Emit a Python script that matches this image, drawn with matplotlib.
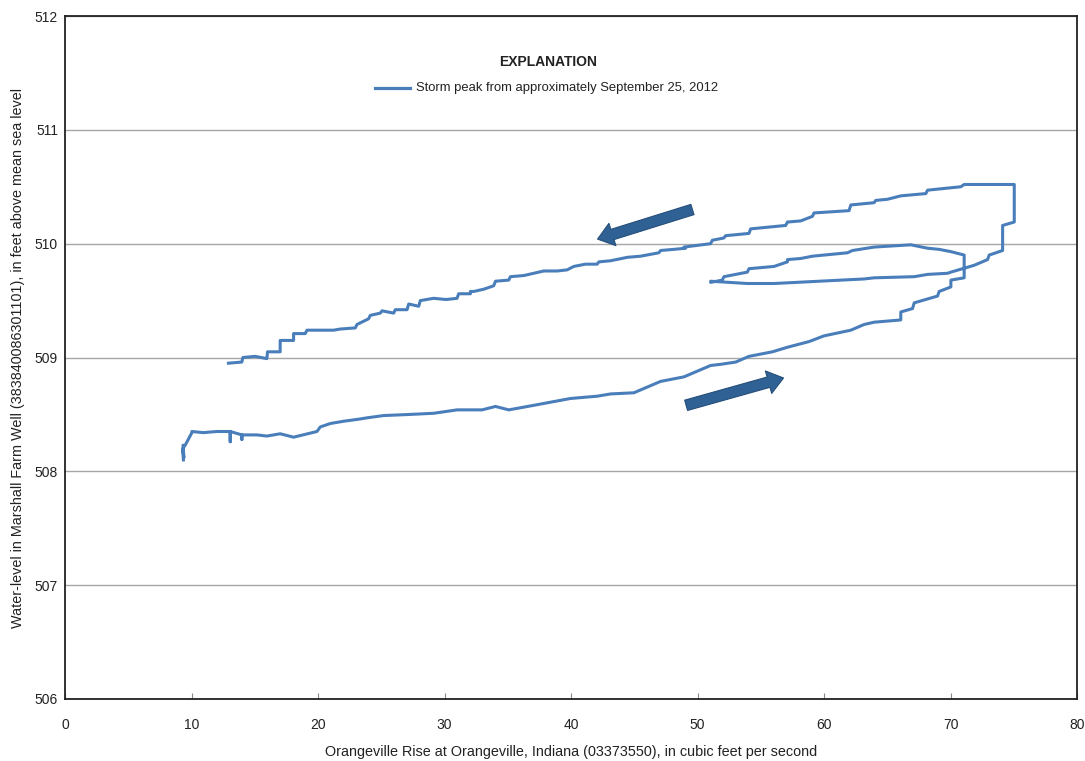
import matplotlib
matplotlib.use("Agg")
import matplotlib.pyplot as plt

# Discharge (cfs) and water level (ft) along the storm hysteresis loop
flow = [
    9.36, 9.30, 9.40, 9.33, 9.45, 9.60, 10.03, 10.03, 10.92, 12.00, 13.06, 13.06, 13.06,
    13.98, 13.98, 13.98, 15.17, 15.96, 17.01, 18.07, 19.92, 20.18, 20.97, 22.02, 23.34,
    23.87, 25.19, 27.30, 29.14, 31.00, 32.97, 34.03, 35.08, 37.06, 39.96, 42.07, 43.13,
    44.97, 47.08, 48.93, 49.99, 51.04, 51.83, 53.02, 54.07, 55.92, 57.11, 58.82, 60.00,
    62.12, 63.17, 63.96, 66.07, 66.07, 67.00, 67.13, 68.05, 68.98, 69.10, 70.03, 70.03,
    71.08, 71.08, 70.03, 69.10, 68.19, 66.86, 63.96, 62.25, 61.86, 59.09, 58.17, 57.11,
    57.11, 56.05, 54.07, 53.94, 53.02, 52.09, 51.96, 51.04, 51.04, 53.94, 56.05, 63.17,
    63.96, 67.13, 68.19, 69.77, 70.03, 71.87, 72.93, 73.06, 74.12, 74.12, 75.04, 75.04,
    73.99, 71.08, 70.82, 68.19, 68.05, 66.07, 65.02, 64.09, 63.96, 62.12, 61.98, 59.21,
    59.09, 58.16, 57.11, 56.97, 54.20, 54.07, 52.22, 52.09, 51.17, 51.04, 48.93, 49.06,
    48.13, 47.08, 46.95, 45.50, 44.45, 43.13, 42.20, 42.07, 41.15, 40.22, 39.70, 38.91,
    37.85, 36.27, 35.21, 35.08, 34.03, 33.89, 33.10, 32.31, 32.05, 32.05, 31.12, 30.99,
    30.20, 30.07, 29.14, 28.09, 27.96, 27.17, 27.04, 26.11, 25.98, 25.06, 24.93, 24.13,
    24.00, 23.08, 22.95, 21.76, 21.23, 20.04, 19.13, 18.99, 18.07, 18.07, 17.01, 17.01,
    16.01, 15.96, 15.03, 14.06, 13.98, 12.92,
]
level = [
    508.10, 508.20, 508.12, 508.23, 508.22, 508.25, 508.34, 508.35, 508.34, 508.35, 508.35, 508.26, 508.35,
    508.32, 508.28, 508.32, 508.32, 508.31, 508.33, 508.30, 508.35, 508.39, 508.42, 508.44, 508.46,
    508.47, 508.49, 508.50, 508.51, 508.54, 508.54, 508.57, 508.54, 508.58, 508.64, 508.66, 508.68,
    508.69, 508.79, 508.83, 508.88, 508.93, 508.94, 508.96, 509.01, 509.05, 509.09, 509.14, 509.19,
    509.24, 509.29, 509.31, 509.33, 509.40, 509.43, 509.48, 509.51, 509.54, 509.58, 509.62, 509.68,
    509.70, 509.90, 509.93, 509.95, 509.96, 509.99, 509.97, 509.94, 509.92, 509.89, 509.87, 509.86,
    509.84, 509.80, 509.78, 509.75, 509.73, 509.71, 509.68, 509.66, 509.67, 509.65, 509.65, 509.69,
    509.70, 509.71, 509.73, 509.74, 509.75, 509.81, 509.86, 509.90, 509.94, 510.16, 510.19, 510.52,
    510.52, 510.52, 510.50, 510.47, 510.44, 510.42, 510.39, 510.38, 510.36, 510.34, 510.29, 510.27,
    510.24, 510.20, 510.19, 510.16, 510.13, 510.09, 510.07, 510.05, 510.03, 510.00, 509.97, 509.96,
    509.95, 509.94, 509.92, 509.89, 509.88, 509.85, 509.84, 509.82, 509.82, 509.80, 509.77, 509.76,
    509.76, 509.72, 509.71, 509.68, 509.67, 509.63, 509.60, 509.58, 509.58, 509.56, 509.56, 509.52,
    509.51, 509.51, 509.52, 509.50, 509.45, 509.47, 509.42, 509.42, 509.39, 509.41, 509.39, 509.37,
    509.34, 509.29, 509.26, 509.25, 509.24, 509.24, 509.24, 509.21, 509.21, 509.15, 509.15, 509.05,
    509.05, 508.99, 509.01, 509.00, 508.96, 508.95,
]

x_ticks = [0, 10, 20, 30, 40, 50, 60, 70, 80]
y_ticks = [506, 507, 508, 509, 510, 511, 512]
series_label = "Storm peak from approximately September 25, 2012"

plt.rcParams['font.family'] = ['Liberation Sans', 'DejaVu Sans']

fig = plt.figure(figsize=(10.85, 7.61), dpi=100)
ax = fig.add_axes([65 / 1085, 1 - 699 / 761, (1077 - 65) / 1085, (699 - 16) / 761])

ax.plot(flow, level, color='#4A7EBB', lw=2.2, solid_joinstyle='round', zorder=3)

ax.set_xlim(0, 80)
ax.set_ylim(506, 512)
ax.set_xticks(x_ticks)
ax.set_yticks(y_ticks)
ax.grid(axis='y', color='#A6A6A6', lw=1.0)
ax.set_axisbelow(True)
ax.tick_params(axis='x', direction='in', length=4, width=0.8, color='#888888',
               labelsize=10, pad=14, labelcolor='#222222')
ax.tick_params(axis='y', length=0, labelsize=10, pad=5, labelcolor='#222222')
for s in ax.spines.values():
    s.set_color('#222222')
    s.set_linewidth(1.3)

ax.set_xlabel('Orangeville Rise at Orangeville, Indiana (03373550), in cubic feet per second',
              fontsize=10.4, color='#222222', labelpad=9)
ax.set_ylabel('Water-level in Marshall Farm Well (383840086301101), in feet above mean sea level',
              fontsize=10.4, color='#222222', labelpad=7)

# Explanation / legend
ax.text(0.4775, 0.933, 'EXPLANATION', transform=ax.transAxes, ha='center', va='center',
        fontsize=10, fontweight='bold', color='#222222')
ax.plot([0.306, 0.341], [0.895, 0.895], transform=ax.transAxes, color='#4A7EBB', lw=2.3)
ax.text(0.347, 0.895, series_label, transform=ax.transAxes, ha='left', va='center',
        fontsize=9.4, color='#222222')

# Direction arrows
arrow_style = "simple,head_length=0.8,head_width=1.2,tail_width=0.55"
ax.annotate('', xy=(42.1, 510.04), xytext=(49.6, 510.30),
            arrowprops=dict(arrowstyle=arrow_style, mutation_scale=14,
                            fc='#2F6195', ec='#254E7A', lw=0.8, shrinkA=0, shrinkB=0), zorder=4)
ax.annotate('', xy=(56.8, 508.82), xytext=(49.1, 508.58),
            arrowprops=dict(arrowstyle=arrow_style, mutation_scale=14,
                            fc='#2F6195', ec='#254E7A', lw=0.8, shrinkA=0, shrinkB=0), zorder=4)

fig.savefig('out.png', dpi=100)
